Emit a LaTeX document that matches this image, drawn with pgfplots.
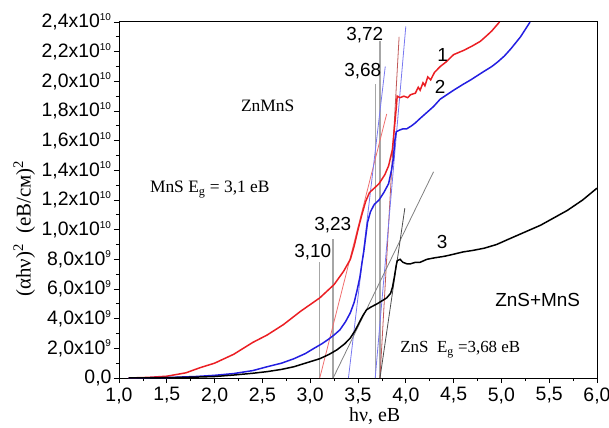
\documentclass[border=0pt]{standalone}
\usepackage{fontspec}
\setmainfont{Liberation Sans}
\newfontfamily\serif{Liberation Serif}
\usepackage{pgfplots}
\pgfplotsset{compat=1.18}

\definecolor{cred}{RGB}{235,30,35}
\definecolor{cblue}{RGB}{35,30,225}
\definecolor{lred}{RGB}{240,110,110}
\definecolor{lblue}{RGB}{120,120,240}
\newcommand\sx[1]{\textsuperscript{\fontsize{10}{10}\selectfont #1}}

\begin{document}
\begin{tikzpicture}
  \begin{axis}[
      scale only axis,
      width=478bp, height=356bp,
      xmin=1, xmax=6, ymin=0, ymax=2.4,
      xtick={1,1.5,...,6},
      xticklabels={{1,0},{1,5},{2,0},{2,5},{3,0},{3,5},{4,0},{4,5},{5,0},{5,5},{6,0}},
      ytick={0,0.2,0.4,0.6,0.8,1.0,1.2,1.4,1.6,1.8,2.0,2.2,2.4},
      yticklabels={{0,0},{2,0x10\sx{9}},{4,0x10\sx{9}},{6,0x10\sx{9}},{8,0x10\sx{9}},
        {1,0x10\sx{10}},{1,2x10\sx{10}},{1,4x10\sx{10}},{1,6x10\sx{10}},
        {1,8x10\sx{10}},{2,0x10\sx{10}},{2,2x10\sx{10}},{2,4x10\sx{10}}},
      minor x tick num=1, minor y tick num=1,
      xtick pos=bottom, ytick pos=left,
      tick align=outside,
      major tick length=5bp, minor tick length=3bp,
      tick style={black, line width=0.8pt},
      axis line style={line width=1pt},
      tick label style={font=\fontsize{19.5}{22}\selectfont},
      xticklabel style={yshift=-1bp},
      yticklabel style={xshift=1bp},
      xlabel={\serif hν, eB},
      ylabel={\serif (αhν)\textsuperscript{2}\ \ (eB/см)\textsuperscript{2}},
      xlabel style={font=\fontsize{20}{22}\selectfont, at={(ticklabel cs:0.535)}, inner sep=0pt, yshift=-1bp},
      ylabel style={font=\fontsize{21}{24}\selectfont, at={(ticklabel cs:0.42)}, inner sep=0pt, yshift=3bp},
      clip=false,
    ]
    \coordinate (ll) at (rel axis cs:0,0);
    \coordinate (ur) at (rel axis cs:1,1);

    % vertical markers
    \addplot[gray!70, line width=1.3pt] coordinates {(3.10,0) (3.10,0.785)};
    \addplot[gray!70, line width=1.3pt] coordinates {(3.24,0) (3.24,0.94)};
    \addplot[gray!70, line width=1.3pt] coordinates {(3.68,0) (3.68,1.98)};
    \addplot[gray!70, line width=1.3pt] coordinates {(3.73,0) (3.73,2.27)};

    % tangents
    \addplot[lred, line width=0.8pt] coordinates {(3.10,0) (3.80,1.78)};
    \addplot[lred!80!black, line width=0.8pt] coordinates {(3.73,0) (3.93,2.30)};
    \addplot[lblue, line width=0.8pt] coordinates {(3.40,0) (3.785,2.10)};
    \addplot[lblue, line width=0.8pt] coordinates {(3.68,0) (4.00,2.37)};
    \addplot[gray, line width=0.8pt] coordinates {(3.24,0) (4.29,1.39)};
    \addplot[black!70, line width=0.8pt] coordinates {(3.73,0) (3.99,1.145)};

    % curve 1
    \addplot[cred, line width=1.5pt] coordinates {
      (1.1,0) (1.3,0.004) (1.5,0.012) (1.7,0.035) (1.85,0.07) (2.0,0.10)
      (2.2,0.16) (2.4,0.24) (2.55,0.29) (2.72,0.36) (2.9,0.45) (3.1,0.54)
      (3.25,0.63) (3.35,0.72) (3.42,0.80) (3.46,0.89) (3.5,1.0) (3.54,1.10)
      (3.58,1.19) (3.62,1.25) (3.67,1.28) (3.72,1.31) (3.78,1.37) (3.82,1.43)
      (3.86,1.54) (3.88,1.68) (3.90,1.82) (3.91,1.90) (3.94,1.89) (3.98,1.90)
      (4.02,1.89) (4.05,1.91) (4.10,1.92) (4.13,1.96) (4.15,1.94) (4.18,1.99)
      (4.2,1.97) (4.23,2.03) (4.26,2.01) (4.3,2.06) (4.36,2.10) (4.42,2.13)
      (4.5,2.18) (4.61,2.21) (4.7,2.24) (4.78,2.27) (4.85,2.31) (4.90,2.34) (4.98,2.40)
    };
    % curve 2
    \addplot[cblue, line width=1.5pt] coordinates {
      (1.1,0) (1.5,0.003) (1.8,0.01) (2.0,0.018) (2.2,0.03) (2.4,0.05)
      (2.55,0.076) (2.7,0.10) (2.83,0.13) (2.95,0.165) (3.04,0.20) (3.12,0.23)
      (3.18,0.256) (3.25,0.29) (3.31,0.324) (3.37,0.38) (3.42,0.44) (3.46,0.51)
      (3.49,0.59) (3.52,0.68) (3.54,0.77) (3.56,0.85) (3.58,0.95) (3.60,1.05)
      (3.63,1.12) (3.67,1.17) (3.72,1.20) (3.77,1.25) (3.82,1.31) (3.85,1.40)
      (3.87,1.48) (3.885,1.60) (3.90,1.66) (3.93,1.67) (3.97,1.68) (4.01,1.68)
      (4.06,1.70) (4.10,1.72) (4.15,1.75) (4.22,1.79) (4.29,1.83) (4.36,1.88)
      (4.43,1.91) (4.50,1.94) (4.6,1.98) (4.68,2.01) (4.8,2.06) (4.9,2.10)
      (4.96,2.13) (5.03,2.17) (5.1,2.22) (5.2,2.30) (5.3,2.40)
    };
    % curve 3
    \addplot[black, line width=1.5pt] coordinates {
      (1.1,0) (1.5,0.002) (1.8,0.006) (2.0,0.01) (2.2,0.02) (2.4,0.032)
      (2.55,0.043) (2.7,0.058) (2.83,0.076) (2.95,0.10) (3.1,0.13) (3.2,0.16)
      (3.28,0.19) (3.36,0.23) (3.42,0.27) (3.47,0.32) (3.51,0.37) (3.55,0.42)
      (3.59,0.46) (3.64,0.48) (3.70,0.50) (3.75,0.52) (3.80,0.54) (3.84,0.57)
      (3.86,0.61) (3.88,0.68) (3.90,0.76) (3.91,0.79) (3.94,0.80) (3.97,0.78)
      (4.01,0.77) (4.05,0.77) (4.10,0.78) (4.15,0.78) (4.22,0.80) (4.3,0.81)
      (4.4,0.82) (4.47,0.83) (4.6,0.85) (4.7,0.86) (4.82,0.875) (4.95,0.90)
      (5.09,0.94) (5.25,0.985) (5.41,1.03) (5.55,1.08) (5.69,1.13) (5.85,1.20) (6.0,1.28)
    };

    % annotations
    \begin{scope}[every node/.style={font=\fontsize{19}{22}\selectfont, inner sep=0pt}]
      \node at (axis cs:3.026,0.852) {3,10};
      \node at (axis cs:3.236,1.03) {3,23};
      \node at (axis cs:3.55,2.07) {3,68};
      \node at (axis cs:3.57,2.31) {3,72};
      \node at (axis cs:4.385,2.18) {1};
      \node at (axis cs:4.36,1.96) {2};
      \node at (axis cs:4.38,0.92) {3};
      \node at (axis cs:5.38,0.526) {ZnS+MnS};
      \node[font=\serif\fontsize{17.5}{20}\selectfont] at (axis cs:2.555,1.835) {ZnMnS};
      \node[font=\serif\fontsize{17.5}{20}\selectfont] at (axis cs:1.95,1.27) {MnS E\textsubscript{g} = 3,1 eB};
      \node[font=\serif\fontsize{17}{20}\selectfont] at (axis cs:4.57,0.19) {ZnS\ \ E\textsubscript{g} =3,68 eB};
    \end{scope}
  \end{axis}
  \pgfresetboundingbox
  \path[use as bounding box] ([shift={(-119bp,-50bp)}]ll) rectangle ([shift={(12bp,22bp)}]ur);
\end{tikzpicture}
\end{document}
